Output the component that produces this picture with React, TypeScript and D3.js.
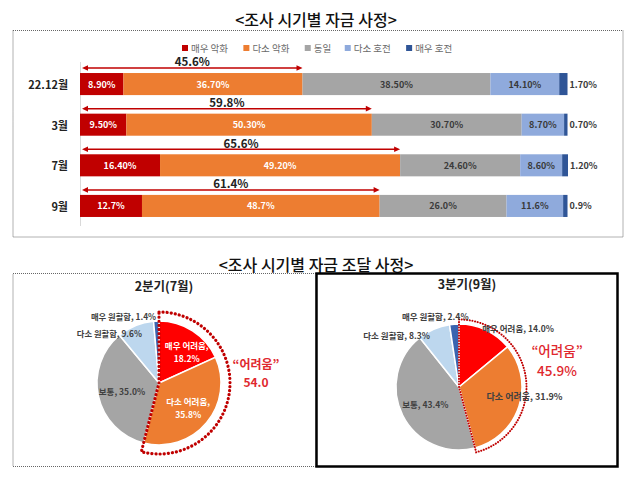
import React from 'react';
import * as d3 from 'd3';

// ---------- data ----------
const periods = ['22.12월', '3월', '7월', '9월'];
const seriesNames = ['매우 악화', '다소 악화', '동일', '다소 호전', '매우 호전'];
const veryWorse = [8.9, 9.5, 16.4, 12.7];
const slightlyWorse = [36.7, 50.3, 49.2, 48.7];
const same = [38.5, 30.7, 24.6, 26.0];
const slightlyBetter = [14.1, 8.7, 8.6, 11.6];
const veryBetter = [1.7, 0.7, 1.2, 0.9];
const labelDecimals = [2, 2, 2, 1];

const pieCategories = ['매우 어려움', '다소 어려움', '보통', '다소 원활함', '매우 원활함'];
const pieQ2Values = [18.2, 35.8, 35.0, 9.6, 1.4];
const pieQ3Values = [14.0, 31.9, 43.4, 8.3, 2.4];
const pieTitles = ['2분기(7월)', '3분기(9월)'];

// ---------- style ----------
const FONT = "'Noto Sans CJK KR', 'Noto Sans', sans-serif";
const barColors = ['#C00000', '#ED7D31', '#A5A5A5', '#8FAADC', '#2F5597'];
const barTextColors = ['#ffffff', '#ffffff', '#3a3a3a', '#3a3a3a', '#3a3a3a'];
const pieColors = ['#FF0000', '#ED7D31', '#A5A5A5', '#BDD7EE', '#3A64B0'];

const series = [veryWorse, slightlyWorse, same, slightlyBetter, veryBetter];

const pieLayouts = [
  {
    values: pieQ2Values, cx: 159, cy: 383, r: 62, ringR: 71, ringW: 3.2, ringDash: '0.1 4',
    labelR: [42, 38, 38, 53, 67],
    anchor: ['middle', 'middle', 'middle', 'end', 'end'],
    nudge: [[5, 4], [0, 0], [0, 0], [3, -1], [0, 0]],
    twoLine: [true, true, false, false, false],
    textColor: ['#fff', '#fff', '#404040', '#404040', '#404040'],
    fontSize: [8.5, 8.5, 8.5, 8.3, 8.3],
    titleX: 164, titleY: 285,
    sumX: 256, sumY: 363, sumGap: 17.5, sumSize: 12, sumWeight: 700, sumSuffix: '',
  },
  {
    values: pieQ3Values, cx: 459, cy: 387, r: 63, ringR: 67.5, ringW: 2, ringDash: '0.1 2.6',
    labelR: [64, 29, 37.6, 60, 72],
    anchor: ['start', 'start', 'middle', 'end', 'end'],
    nudge: [[-4, -1], [0, 1], [0, 0], [-5, 3], [15, 1]],
    twoLine: [false, false, false, false, false],
    textColor: ['#404040', '#404040', '#404040', '#404040', '#404040'],
    fontSize: [8.5, 9, 8.5, 8.5, 8.5],
    titleX: 467, titleY: 283,
    sumX: 557, sumY: 350, sumGap: 19.5, sumSize: 13.5, sumWeight: 500, sumSuffix: '%',
  },
];

export default function App() {
  const x = d3.scaleLinear().domain([0, 100]).range([80, 568]);
  const y = d3
    .scaleBand<string>()
    .domain(periods)
    .range([63.75, 226.25])
    .paddingInner(0.457)
    .paddingOuter(0.2284);
  const bh = y.bandwidth();

  // legend positions
  const legFont = 9.5;
  let lx = 182;
  const legendItems = seriesNames.map((name, i) => {
    const w = name.replace(/ /g, '').length * legFont + (name.includes(' ') ? legFont * 0.25 : 0);
    const item = { name, x: lx, color: barColors[i] };
    lx += 6 + 3 + w + 12;
    return item;
  });

  const pieGen = d3.pie<number>().sort(null).value((d) => d).startAngle(0).endAngle(2 * Math.PI);

  return (
    <svg
      width={628}
      height={480}
      style={{ position: 'absolute', left: 0, top: 0, background: '#fff' }}
      fontFamily={FONT}
    >
      <rect x={0} y={0} width={628} height={480} fill="#fff" />
      {/* Top title */}
      <text x={316} y={19} textAnchor="middle" dominantBaseline="central" fontSize={16} fontWeight={500} fill="#111">
        {'<조사 시기별 자금 사정>'}
      </text>
      {/* top dotted box */}
      <rect x={13} y={30.5} width={610} height={206.5} fill="none" stroke="#666" strokeWidth={1} strokeDasharray="1 1" />

      {/* legend */}
      {legendItems.map((it) => (
        <g key={it.name}>
          <rect x={it.x} y={45} width={6} height={6} fill={it.color} />
          <text x={it.x + 9} y={48} dominantBaseline="central" fontSize={legFont} fill="#6a6a6a">
            {it.name}
          </text>
        </g>
      ))}

      {/* axis line */}
      <line x1={80.5} x2={80.5} y1={62} y2={226} stroke="#d9d9d9" strokeWidth={1} />

      {/* bars */}
      {periods.map((p, i) => {
        const y0 = y(p)!;
        let acc = 0;
        const segs = series.map((s, k) => {
          const start = acc;
          acc += s[i];
          return { k, start, end: acc, v: s[i] };
        });
        const worseSum = veryWorse[i] + slightlyWorse[i];
        const ax0 = x(0) + 2;
        const ax1 = x(worseSum);
        const ay = y0 - 5;
        return (
          <g key={p}>
            <text x={68} y={y0 + bh / 2} textAnchor="end" dominantBaseline="central" fontSize={11} fontWeight={700} fill="#222">
              {p}
            </text>
            {segs.map((sg) => (
              <rect key={sg.k} x={x(sg.start)} y={y0} width={x(sg.end) - x(sg.start)} height={bh} fill={barColors[sg.k]} />
            ))}
            {segs.map((sg) =>
              sg.k < 4 ? (
                <text
                  key={'t' + sg.k}
                  x={(x(sg.start) + x(sg.end)) / 2}
                  y={y0 + bh / 2}
                  textAnchor="middle"
                  dominantBaseline="central"
                  fontSize={9}
                  fontWeight={700}
                  fill={barTextColors[sg.k]}
                >
                  {sg.v.toFixed(labelDecimals[i]) + '%'}
                </text>
              ) : (
                <text
                  key={'t' + sg.k}
                  x={x(sg.end) + 2}
                  y={y0 + bh / 2}
                  dominantBaseline="central"
                  fontSize={9}
                  fontWeight={700}
                  fill="#3a3a3a"
                >
                  {sg.v.toFixed(labelDecimals[i]) + '%'}
                </text>
              )
            )}
            {/* double arrow */}
            <line x1={ax0 + 4} x2={ax1 - 4} y1={ay} y2={ay} stroke="#C00000" strokeWidth={1.5} />
            <path d={`M${ax0},${ay} L${ax0 + 6},${ay - 2.8} L${ax0 + 6},${ay + 2.8} Z`} fill="#C00000" />
            <path d={`M${ax1},${ay} L${ax1 - 6},${ay - 2.8} L${ax1 - 6},${ay + 2.8} Z`} fill="#C00000" />
            <text x={(ax0 + ax1) / 2} y={ay - 1.6} textAnchor="middle" fontSize={11.5} fontWeight={700} fill="#222">
              {worseSum.toFixed(1) + '%'}
            </text>
          </g>
        );
      })}

      {/* bottom title */}
      <text x={316} y={264} textAnchor="middle" dominantBaseline="central" fontSize={16} fontWeight={500} fill="#111">
        {'<조사 시기별 자금 조달 사정>'}
      </text>

      {/* pie boxes */}
      <rect x={13} y={273.5} width={303} height={193} fill="none" stroke="#666" strokeWidth={1} strokeDasharray="1 1" />
      <rect x={316.5} y={273.5} width={301} height={193} fill="none" stroke="#000" strokeWidth={2.5} />

      {pieLayouts.map((pl, pi) => {
        const arcs = pieGen(pl.values);
        const arc = d3.arc<d3.PieArcDatum<number>>().innerRadius(0).outerRadius(pl.r);
        const hardSum = pl.values[0] + pl.values[1];
        const ringPath = d3.arc()({
          innerRadius: 0,
          outerRadius: pl.ringR,
          startAngle: 0,
          endAngle: (2 * Math.PI * hardSum) / 100,
        } as any) as string;
        return (
          <g key={pi}>
            <text x={pl.titleX} y={pl.titleY} textAnchor="middle" dominantBaseline="central" fontSize={12.5} fontWeight={700} fill="#222">
              {pieTitles[pi]}
            </text>
            <g transform={`translate(${pl.cx},${pl.cy})`}>
              {arcs.map((a, k) => (
                <path key={k} d={arc(a) as string} fill={pieColors[k]} stroke="#fff" strokeWidth={1.5} />
              ))}
              <path
                d={ringPath}
                fill="none"
                stroke="#C00000"
                strokeWidth={pl.ringW}
                strokeDasharray={pl.ringDash}
                strokeLinecap="round"
              />
              {arcs.map((a, k) => {
                const mid = (a.startAngle + a.endAngle) / 2;
                const lxp = Math.sin(mid) * pl.labelR[k] + pl.nudge[k][0];
                const lyp = -Math.cos(mid) * pl.labelR[k] + pl.nudge[k][1];
                const name = pieCategories[k];
                const val = a.data.toFixed(1) + '%';
                if (pl.twoLine[k]) {
                  return (
                    <text key={'l' + k} x={lxp} y={lyp - 6.5} textAnchor={pl.anchor[k] as any} dominantBaseline="central" fontSize={pl.fontSize[k]} fontWeight={700} fill={pl.textColor[k]}>
                      <tspan x={lxp}>{name + ','}</tspan>
                      <tspan x={lxp} dy={13}>{val}</tspan>
                    </text>
                  );
                }
                return (
                  <text key={'l' + k} x={lxp} y={lyp} textAnchor={pl.anchor[k] as any} dominantBaseline="central" fontSize={pl.fontSize[k]} fontWeight={700} fill={pl.textColor[k]}>
                    {name + ', ' + val}
                  </text>
                );
              })}
            </g>
            <text x={pl.sumX} y={pl.sumY} textAnchor="middle" dominantBaseline="central" fontSize={pl.sumSize} fontWeight={pl.sumWeight} fill="#E0282E">
              <tspan x={pl.sumX}>{'“어려움”'}</tspan>
              <tspan x={pl.sumX} dy={pl.sumGap}>{hardSum.toFixed(1) + pl.sumSuffix}</tspan>
            </text>
          </g>
        );
      })}
    </svg>
  );
}
